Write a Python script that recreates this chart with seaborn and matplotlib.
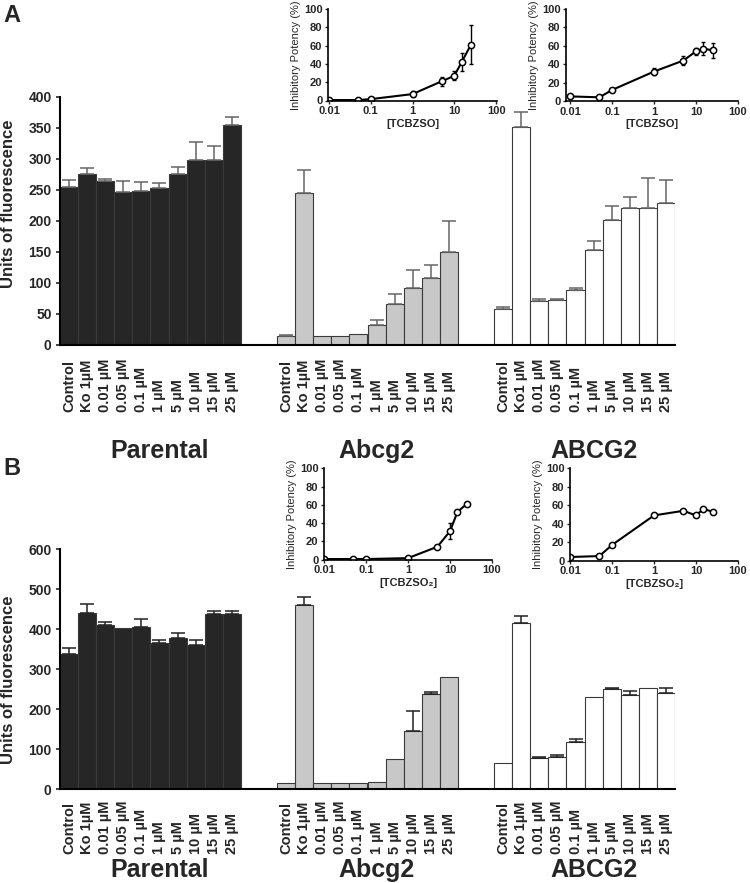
import numpy as np
import pandas as pd
import seaborn as sns
import matplotlib.pyplot as plt

# bar chart data (units of fluorescence)
groups = ['Parental', 'Abcg2', 'ABCG2']
doses = ['Control', 'Ko 1µM', '0.01 µM', '0.05 µM', '0.1 µM', '1 µM', '5 µM', '10 µM', '15 µM', '25 µM']
doses_ko1 = ['Control', 'Ko1 µM', '0.01 µM', '0.05 µM', '0.1 µM', '1 µM', '5 µM', '10 µM', '15 µM', '25 µM']

a_parental = [255, 276, 264, 247, 248, 252, 276, 298, 298, 354]
a_parental_err = [11, 9, 4, 17, 14, 8, 11, 29, 22, 14]
a_abcg2 = [14, 244, 14, 14, 17, 31, 65, 92, 108, 150]
a_abcg2_err = [1, 38, 0, 0, 0, 9, 16, 29, 20, 50]
a_ABCG2 = [58, 351, 70, 72, 89, 152, 201, 220, 220, 228]
a_ABCG2_err = [3, 24, 3, 2, 2, 15, 23, 18, 49, 38]

b_parental = [338, 442, 411, 403, 406, 365, 378, 362, 439, 439]
b_parental_err = [16, 22, 8, 0, 19, 8, 14, 11, 7, 7]
b_abcg2 = [15, 461, 15, 15, 15, 18, 75, 146, 238, 280]
b_abcg2_err = [0, 19, 0, 0, 0, 0, 0, 50, 5, 0]
b_ABCG2 = [67, 417, 78, 82, 119, 232, 251, 235, 254, 242]
b_ABCG2_err = [0, 16, 2, 3, 6, 0, 3, 10, 0, 12]

# inset data (inhibitory potency %)
conc = [0.01, 0.05, 0.1, 1, 5, 10, 15, 25]
ip_a_abcg2 = [0.5, 0.5, 1.5, 7, 21, 27, 42, 61]
ip_a_abcg2_err = [0, 0, 0, 3, 5, 5, 10, 21]
ip_a_ABCG2 = [5, 4, 12, 32, 44, 54, 57, 55]
ip_a_ABCG2_err = [0, 0, 0, 4, 5, 4, 7, 8]
ip_b_abcg2 = [0.5, 0.5, 0.5, 1.5, 14, 31, 52, 61]
ip_b_abcg2_err = [0, 0, 0, 0, 0, 9, 0, 0]
ip_b_ABCG2 = [4, 5, 17, 49, 54, 49, 56, 53]
ip_b_ABCG2_err = [0, 0, 0, 0, 0, 0, 0, 0]

sns.set_theme(style='white')
plt.rcParams['font.family'] = ['Liberation Sans', 'DejaVu Sans']

W, H = 750, 883
fig = plt.figure(figsize=(W / 100, H / 100), dpi=100)


def rect(l, t, r, b):
    return [l / W, 1 - b / H, (r - l) / W, (b - t) / H]


fills = {'Parental': '#262626', 'Abcg2': '#c8c8c8', 'ABCG2': '#ffffff'}


def bar_panel(box, series, errs, labels, ymax, ystep, ecolor, lab_y, grp_y, ylab_y):
    ax = fig.add_axes(box)
    rows = []
    for g, name in enumerate(groups):
        for i, v in enumerate(series[g]):
            rows.append({'pos': g * 12 + i, 'value': v, 'err': errs[g][i],
                         'group': name, 'label': labels[g][i]})
    df = pd.DataFrame(rows)
    sns.barplot(df, x='pos', y='value', hue='group', palette=fills, native_scale=True,
                width=1, dodge=False, errorbar=None, legend=False, saturation=1,
                edgecolor='#3a3a3a', linewidth=0.8, ax=ax)
    e = df[df['err'] > 0]
    ax.errorbar(e['pos'], e['value'], yerr=[np.zeros(len(e)), e['err']], fmt='none',
                ecolor=ecolor, elinewidth=1.1, capsize=5, capthick=1.1, zorder=1)
    ax.set_xlim(-0.5, 33.5)
    ax.set_ylim(0, ymax)
    ax.set_yticks(np.arange(0, ymax + 1, ystep))
    ax.set_xticks([])
    ax.set_xlabel('')
    ax.set_ylabel('Units of fluorescence', fontsize=12, fontweight='bold')
    ax.yaxis.set_label_coords(-0.071, ylab_y)
    for s in ['top', 'right']:
        ax.spines[s].set_visible(False)
    for s in ['left', 'bottom']:
        ax.spines[s].set_color('black')
        ax.spines[s].set_linewidth(1.5)
    ax.tick_params(axis='y', left=True, length=3, width=1.2, pad=3, labelsize=10)
    for t in ax.get_yticklabels():
        t.set_fontweight('bold')
    tr = ax.get_xaxis_transform()
    for _, r in df.iterrows():
        ax.text(r['pos'], lab_y, r['label'], rotation=90, ha='center', va='bottom',
                transform=tr, fontsize=10.5, fontweight='bold')
    for g, name in enumerate(groups):
        ax.text(g * 12 + 4.5 + 0.5, grp_y, name, ha='center', va='center',
                transform=tr, fontsize=18, fontweight='bold')
    return ax


def inset(box, y, yerr, xlabel, xlim):
    ax = fig.add_axes(box)
    ax.set_xscale('log')
    ax.errorbar(conc, y, yerr=yerr, fmt='none', ecolor='black', elinewidth=1, capsize=1.5)
    sns.lineplot(x=conc, y=y, ax=ax, color='black', linewidth=1.5, marker='o',
                 markersize=4.5, markerfacecolor='white', markeredgecolor='black',
                 markeredgewidth=1.1)
    ax.set_xlim(xlim)
    ax.set_ylim(0, 100)
    ax.set_xticks([0.01, 0.1, 1, 10, 100])
    ax.set_xticklabels(['0.01', '0.1', '1', '10', '100'])
    ax.minorticks_off()
    ax.set_yticks(range(0, 101, 20))
    for s in ['top', 'right']:
        ax.spines[s].set_visible(False)
    for s in ['left', 'bottom']:
        ax.spines[s].set_color('black')
        ax.spines[s].set_linewidth(1.2)
    ax.tick_params(left=True, bottom=True, length=2, width=1, pad=2, labelsize=8)
    for t in ax.get_xticklabels() + ax.get_yticklabels():
        t.set_fontweight('bold')
    ax.set_xlabel(xlabel, fontsize=8, fontweight='bold', labelpad=2)
    ax.set_ylabel('Inhibitory Potency (%)', fontsize=8, labelpad=2)
    return ax


# panel A
bar_panel(rect(60, 96.7, 675, 344.7),
          [a_parental, a_abcg2, a_ABCG2], [a_parental_err, a_abcg2_err, a_ABCG2_err],
          [doses, doses, doses_ko1], 400, 50, '#666666', -0.271, -0.429, 0.567)
inset(rect(328, 9, 497, 100.5), ip_a_abcg2, ip_a_abcg2_err, '[TCBZSO]', (0.0095, 105))
inset(rect(566, 9, 738, 101), ip_a_ABCG2, ip_a_ABCG2_err, '[TCBZSO]', (0.008, 100))

# panel B
bar_panel(rect(60, 549.3, 675, 789.3),
          [b_parental, b_abcg2, b_ABCG2], [b_parental_err, b_abcg2_err, b_ABCG2_err],
          [doses, doses, doses], 600, 100, '#222222', -0.268, -0.336, 0.455)
inset(rect(324, 468.3, 492, 559.5), ip_b_abcg2, ip_b_abcg2_err, '[TCBZSO₂]', (0.01, 100))
inset(rect(570, 468.3, 738, 560.7), ip_b_ABCG2, ip_b_ABCG2_err, '[TCBZSO₂]', (0.01, 100))

fig.text(0.004, 1 - 4 / H, 'A', fontsize=17, fontweight='bold', va='top', ha='left')
fig.text(0.004, 1 - 457 / H, 'B', fontsize=17, fontweight='bold', va='top', ha='left')

fig.savefig('out.png', dpi=100)
